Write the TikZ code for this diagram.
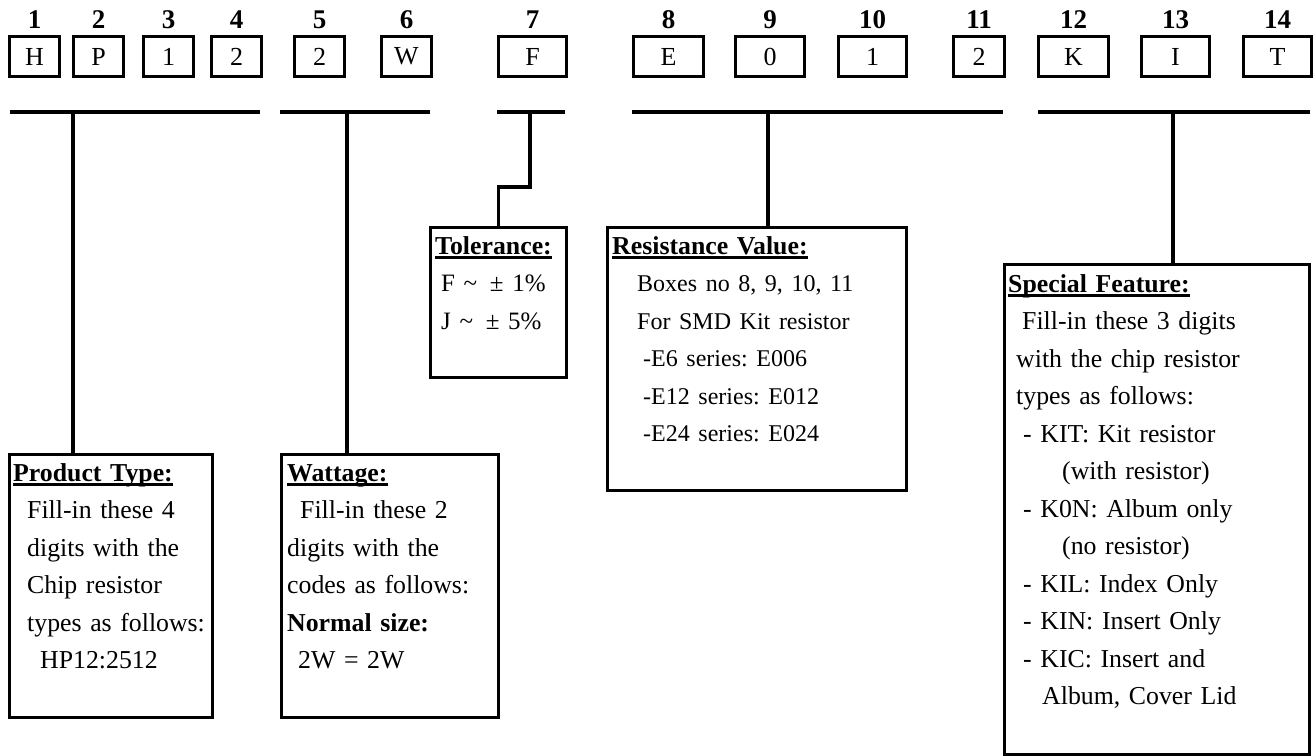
\documentclass[tikz,border=0pt]{standalone}
\usepackage{fontspec}
\setmainfont{Liberation Serif}
\newcommand\hdrline[1]{\setbox0\hbox{\textbf{#1}}\rlap{\rule[-4.5pt]{\wd0}{2.4pt}}\box0}
\begin{document}
\frenchspacing
\begin{tikzpicture}[x=1pt,y=-1pt,
  cell/.style={draw,line width=3pt,inner sep=0pt,minimum height=40pt,anchor=north west,
    font=\fontsize{26}{30}\selectfont},
  num/.style={anchor=base,inner sep=0pt,font=\fontsize{27}{32}\selectfont\bfseries},
  frame/.style={draw,line width=3pt,inner sep=0pt,anchor=north west},
  txt/.style={anchor=base west,inner sep=0pt,align=left,text width=#1,
    font=\fontsize{25.8}{37.5}\selectfont\frenchspacing},
  conn/.style={line width=3.2pt}]
\useasboundingbox (0,0) rectangle (1316,755);
% top cells: name / left / right / letter
\foreach \n/\l/\r/\t in {1/8/58/H,2/72/122/P,3/142/192/1,4/210/260/2,5/293/343/2,6/380/430/W,
  7/497/565/F,8/632/702/E,9/734/803/0,10/837/905/1,11/952/1003/2,12/1037/1107/K,13/1140/1208/I,14/1242/1310/T}{
  \pgfmathsetmacro\w{\r-\l}
  \node[cell,minimum width=\w pt] (b\n) at (\l,35) {\raisebox{-2pt}{\t}};
  \node[num] (n\n) at ([yshift=7pt]b\n.north) {\n};
}
% rules
\coordinate (r1a) at (10,112);   \coordinate (r1b) at (260,112);
\coordinate (r2a) at (280,112);  \coordinate (r2b) at (430,112);
\coordinate (r3a) at (497,112);  \coordinate (r3b) at (565,112);
\coordinate (r4a) at (632,112);  \coordinate (r4b) at (1003,112);
\coordinate (r5a) at (1038,112); \coordinate (r5b) at (1310,112);
\foreach \i in {1,...,5}{\draw[conn] (r\i a) -- (r\i b);}
\coordinate (c1) at (73,112);
\coordinate (c2) at (347,112);
\coordinate (c3) at (530,112);
\coordinate (c4) at (768,112);
\coordinate (c5) at (1173,112);
% boxes
\node[frame,minimum width=203pt,minimum height=263pt] (prod) at (8,453) {};
\node[frame,minimum width=217pt,minimum height=263pt] (watt) at (280,453) {};
\node[frame,minimum width=136pt,minimum height=150pt] (tol) at (429,226) {};
\node[frame,minimum width=299pt,minimum height=263pt] (res) at (606,226) {};
\node[frame,minimum width=305pt,minimum height=490pt] (spec) at (1003,263) {};
% connectors
\draw[conn] (c1) -- (c1 |- prod.north);
\draw[conn] (c2) -- (c2 |- watt.north);
\draw[conn] (c3) -- ++(0,75) -| (tol.north);
\draw[conn] (c4) -- (c4 |- res.north);
\draw[conn] (c5) -- (c5 |- spec.north);
% texts
\node[txt=200pt] (tprod) at (13,481) {\hdrline{Product Type:}\\
  \hspace*{14pt}Fill-in these 4\\
  \hspace*{14pt}digits with the\\
  \hspace*{14pt}Chip resistor\\
  \hspace*{14pt}types as follows:\\
  \hspace*{27pt}HP12:2512};
\node[txt=200pt] (twatt) at (287,481) {\hdrline{Wattage:}\\
  \hspace*{13pt}Fill-in these 2\\
  digits with the\\
  codes as follows:\\
  \textbf{Normal size:}\\
  \hspace*{11pt}2W = 2W};
\node[txt=200pt] (ttol) at (435,254) {\hdrline{Tolerance:}\\
  \fontsize{25}{37.5}\selectfont
  \hspace*{6pt}F \textasciitilde\ \,± 1\%\\
  \hspace*{6pt}J \textasciitilde\ \,± 5\%};
\node[txt=300pt] (tres) at (612,254) {\hdrline{Resistance Value:}\\
  \fontsize{24}{37.5}\selectfont
  \hspace*{25pt}Boxes no 8, 9, 10, 11\\
  \hspace*{25pt}For SMD Kit resistor\\
  \hspace*{31pt}-E6 series: E006\\
  \hspace*{31pt}-E12 series: E012\\
  \hspace*{31pt}-E24 series: E024};
\node[txt=300pt] (tspec) at (1008,292) {\hdrline{Special Feature:}\\
  \hspace*{14pt}Fill-in these 3 digits\\
  \hspace*{8pt}with the chip resistor\\
  \hspace*{8pt}types as follows:\\
  \hspace*{15pt}- KIT: Kit resistor\\
  \hspace*{54pt}(with resistor)\\
  \hspace*{15pt}- K0N: Album only\\
  \hspace*{54pt}(no resistor)\\
  \hspace*{15pt}- KIL: Index Only\\
  \hspace*{15pt}- KIN: Insert Only\\
  \hspace*{15pt}- KIC: Insert and\\
  \hspace*{34pt}Album, Cover Lid};
\end{tikzpicture}
\end{document}
